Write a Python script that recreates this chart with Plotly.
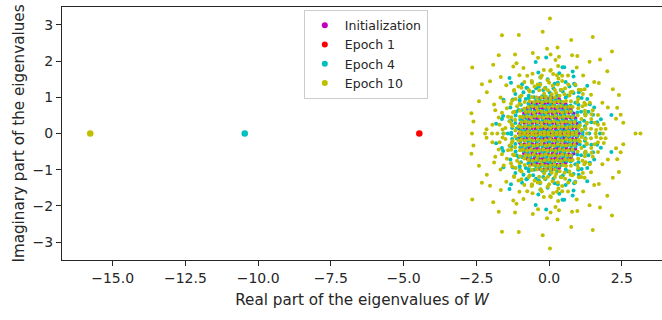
import plotly.graph_objects as go

# Eigenvalues of W (real part, imaginary part) at initialization and after
# 1, 4 and 10 epochs of training.  Complex eigenvalues of the real matrix W
# come in conjugate pairs, so every upper-half-plane value has its mirror.

init_eigs = [
    (-0.33, 0.97), (-0.19, 1.00), (-0.06, 0.96), (0.08, 0.99), (0.21, 0.97), (0.34, 0.95),
    (-0.58, 0.85), (-0.43, 0.82), (-0.30, 0.86), (-0.15, 0.83), (-0.02, 0.85), (0.13, 0.82), (0.27, 0.86), (0.41, 0.84), (0.57, 0.81),
    (-0.76, 0.69), (-0.62, 0.72), (-0.49, 0.68), (-0.34, 0.71), (-0.21, 0.69), (-0.07, 0.72), (0.06, 0.70), (0.21, 0.68), (0.34, 0.71), (0.48, 0.69), (0.62, 0.72), (0.75, 0.68),
    (-0.86, 0.55), (-0.73, 0.57), (-0.58, 0.54), (-0.45, 0.58), (-0.31, 0.56), (-0.16, 0.54), (-0.03, 0.57), (0.12, 0.55), (0.25, 0.58), (0.39, 0.54), (0.53, 0.56), (0.68, 0.57), (0.84, 0.55),
    (-0.94, 0.41), (-0.80, 0.44), (-0.67, 0.40), (-0.52, 0.43), (-0.39, 0.41), (-0.24, 0.44), (-0.10, 0.40), (0.03, 0.42), (0.17, 0.44), (0.30, 0.41), (0.45, 0.43), (0.59, 0.40), (0.73, 0.44), (0.90, 0.42),
    (-0.99, 0.27), (-0.85, 0.30), (-0.71, 0.26), (-0.58, 0.29), (-0.43, 0.27), (-0.29, 0.30), (-0.16, 0.28), (-0.02, 0.26), (0.12, 0.29), (0.26, 0.27), (0.40, 0.30), (0.55, 0.26), (0.68, 0.28), (0.83, 0.29), (0.97, 0.27),
    (-1.01, 0.13), (-0.87, 0.16), (-0.74, 0.12), (-0.59, 0.15), (-0.46, 0.13), (-0.32, 0.16), (-0.18, 0.14), (-0.05, 0.12), (0.09, 0.15), (0.23, 0.13), (0.37, 0.16), (0.51, 0.12), (0.66, 0.14), (0.80, 0.15), (0.95, 0.13),
    (-1.03, 0.00), (-0.90, 0.00), (-0.76, 0.00), (-0.62, 0.00), (-0.48, 0.00), (-0.35, 0.00), (-0.21, 0.00), (-0.07, 0.00), (0.07, 0.00), (0.20, 0.00), (0.34, 0.00), (0.48, 0.00), (0.62, 0.00), (0.76, 0.00), (0.89, 0.00), (1.02, 0.00),
    (-1.01, -0.13), (-0.87, -0.16), (-0.74, -0.12), (-0.59, -0.15), (-0.46, -0.13), (-0.32, -0.16), (-0.18, -0.14), (-0.05, -0.12), (0.09, -0.15), (0.23, -0.13), (0.37, -0.16), (0.51, -0.12), (0.66, -0.14), (0.80, -0.15), (0.95, -0.13),
    (-0.99, -0.27), (-0.85, -0.30), (-0.71, -0.26), (-0.58, -0.29), (-0.43, -0.27), (-0.29, -0.30), (-0.16, -0.28), (-0.02, -0.26), (0.12, -0.29), (0.26, -0.27), (0.40, -0.30), (0.55, -0.26), (0.68, -0.28), (0.83, -0.29), (0.97, -0.27),
    (-0.94, -0.41), (-0.80, -0.44), (-0.67, -0.40), (-0.52, -0.43), (-0.39, -0.41), (-0.24, -0.44), (-0.10, -0.40), (0.03, -0.42), (0.17, -0.44), (0.30, -0.41), (0.45, -0.43), (0.59, -0.40), (0.73, -0.44), (0.90, -0.42),
    (-0.86, -0.55), (-0.73, -0.57), (-0.58, -0.54), (-0.45, -0.58), (-0.31, -0.56), (-0.16, -0.54), (-0.03, -0.57), (0.12, -0.55), (0.25, -0.58), (0.39, -0.54), (0.53, -0.56), (0.68, -0.57), (0.84, -0.55),
    (-0.76, -0.69), (-0.62, -0.72), (-0.49, -0.68), (-0.34, -0.71), (-0.21, -0.69), (-0.07, -0.72), (0.06, -0.70), (0.21, -0.68), (0.34, -0.71), (0.48, -0.69), (0.62, -0.72), (0.75, -0.68),
    (-0.58, -0.85), (-0.43, -0.82), (-0.30, -0.86), (-0.15, -0.83), (-0.02, -0.85), (0.13, -0.82), (0.27, -0.86), (0.41, -0.84), (0.57, -0.81),
    (-0.33, -0.97), (-0.19, -1.00), (-0.06, -0.96), (0.08, -0.99), (0.21, -0.97), (0.34, -0.95),
]

epoch4_eigs = [
    # bulk
    (-0.12, 1.02), (0.05, 1.03),
    (-0.46, 0.90), (-0.32, 0.93), (-0.18, 0.89), (-0.04, 0.92), (0.10, 0.90), (0.24, 0.93), (0.38, 0.89),
    (-0.66, 0.76), (-0.52, 0.79), (-0.38, 0.75), (-0.24, 0.78), (-0.10, 0.76), (0.04, 0.79), (0.18, 0.77), (0.32, 0.75), (0.46, 0.78), (0.61, 0.76),
    (-0.78, 0.62), (-0.64, 0.65), (-0.50, 0.61), (-0.36, 0.64), (-0.22, 0.62), (-0.08, 0.65), (0.06, 0.63), (0.20, 0.61), (0.34, 0.64), (0.48, 0.62), (0.62, 0.65), (0.77, 0.61),
    (-0.88, 0.48), (-0.73, 0.51), (-0.59, 0.47), (-0.46, 0.50), (-0.31, 0.48), (-0.17, 0.51), (-0.03, 0.49), (0.11, 0.47), (0.25, 0.50), (0.39, 0.48), (0.53, 0.51), (0.67, 0.47), (0.82, 0.49),
    (-0.92, 0.34), (-0.78, 0.37), (-0.64, 0.33), (-0.50, 0.36), (-0.36, 0.34), (-0.22, 0.37), (-0.08, 0.35), (0.06, 0.33), (0.20, 0.36), (0.34, 0.34), (0.48, 0.37), (0.62, 0.33), (0.76, 0.35), (0.91, 0.36),
    (-0.99, 0.22), (-0.84, 0.19), (-0.70, 0.23), (-0.57, 0.20), (-0.42, 0.22), (-0.28, 0.19), (-0.13, 0.21), (0.01, 0.23), (0.15, 0.20), (0.29, 0.22), (0.43, 0.19), (0.57, 0.21), (0.71, 0.23), (0.85, 0.20), (0.99, 0.21),
    (-0.97, 0.08), (-0.83, 0.06), (-0.69, 0.09), (-0.55, 0.05), (-0.41, 0.07), (-0.27, 0.09), (-0.14, 0.06), (0.00, 0.08), (0.14, 0.05), (0.28, 0.07), (0.42, 0.09), (0.56, 0.06), (0.70, 0.08), (0.84, 0.05), (0.98, 0.07),
    (-0.97, -0.08), (-0.83, -0.06), (-0.69, -0.09), (-0.55, -0.05), (-0.41, -0.07), (-0.27, -0.09), (-0.14, -0.06), (0.00, -0.08), (0.14, -0.05), (0.28, -0.07), (0.42, -0.09), (0.56, -0.06), (0.70, -0.08), (0.84, -0.05), (0.98, -0.07),
    (-0.99, -0.22), (-0.84, -0.19), (-0.70, -0.23), (-0.57, -0.20), (-0.42, -0.22), (-0.28, -0.19), (-0.13, -0.21), (0.01, -0.23), (0.15, -0.20), (0.29, -0.22), (0.43, -0.19), (0.57, -0.21), (0.71, -0.23), (0.85, -0.20), (0.99, -0.21),
    (-0.92, -0.34), (-0.78, -0.37), (-0.64, -0.33), (-0.50, -0.36), (-0.36, -0.34), (-0.22, -0.37), (-0.08, -0.35), (0.06, -0.33), (0.20, -0.36), (0.34, -0.34), (0.48, -0.37), (0.62, -0.33), (0.76, -0.35), (0.91, -0.36),
    (-0.88, -0.48), (-0.73, -0.51), (-0.59, -0.47), (-0.46, -0.50), (-0.31, -0.48), (-0.17, -0.51), (-0.03, -0.49), (0.11, -0.47), (0.25, -0.50), (0.39, -0.48), (0.53, -0.51), (0.67, -0.47), (0.82, -0.49),
    (-0.78, -0.62), (-0.64, -0.65), (-0.50, -0.61), (-0.36, -0.64), (-0.22, -0.62), (-0.08, -0.65), (0.06, -0.63), (0.20, -0.61), (0.34, -0.64), (0.48, -0.62), (0.62, -0.65), (0.77, -0.61),
    (-0.66, -0.76), (-0.52, -0.79), (-0.38, -0.75), (-0.24, -0.78), (-0.10, -0.76), (0.04, -0.79), (0.18, -0.77), (0.32, -0.75), (0.46, -0.78), (0.61, -0.76),
    (-0.46, -0.90), (-0.32, -0.93), (-0.18, -0.89), (-0.04, -0.92), (0.10, -0.90), (0.24, -0.93), (0.38, -0.89),
    (-0.12, -1.02), (0.05, -1.03),
    # spread outside the bulk
    (-0.10, 2.10), (-0.46, 1.97), (0.46, 1.83), (0.52, 1.83), (-1.36, 1.53), (0.84, 1.57), (1.31, 1.32), (2.14, 0.51),
    (1.65, 0.31), (-1.82, 0.27), (-1.31, 1.40), (-0.37, 1.68), (-0.31, 1.37), (-0.93, 1.36), (-0.59, 1.42), (-1.16, 1.09),
    (-0.88, 1.14), (-1.57, 0.93), (-1.62, 0.40), (-1.33, 0.72), (-0.97, 0.79), (-0.70, 0.98), (-1.27, 0.15), (-1.16, 0.29),
    (0.81, 1.71), (0.90, 1.33), (0.57, 1.42), (1.02, 1.14), (1.40, 0.81), (1.45, 0.31), (1.78, 0.39), (1.25, 0.52),
    (1.55, 0.72), (1.12, 0.98), (1.25, 0.13), (-1.15, 0.50), (-1.05, 0.65), (-0.80, 0.95), (-0.55, 1.15), (-0.20, 1.20),
    (0.15, 1.25), (0.40, 1.20), (0.65, 1.05), (0.90, 0.85), (1.10, 0.60), (1.20, 0.35), (-1.30, 0.35), (1.35, 0.60),
    (-0.35, 1.30), (0.30, 1.40), (1.00, 1.00), (-1.00, 1.00), (-0.05, 1.50), (0.70, 1.30), (-0.75, 1.25),
    (1.15, 0.04), (1.23, 0.20), (1.05, 0.30), (1.24, 0.53), (0.97, 0.58), (1.01, 0.79), (0.74, 0.77), (0.84, 1.12),
    (0.57, 0.99), (0.47, 1.16), (0.28, 1.05), (0.19, 1.37), (0.02, 1.13), (-0.13, 1.26), (-0.24, 1.03), (-0.45, 1.25),
    (-0.51, 1.00), (-0.70, 1.04), (-0.71, 0.82), (-1.01, 0.91), (-0.93, 0.65), (-1.12, 0.60), (-0.99, 0.38), (-1.36, 0.34),
    (-1.11, 0.14), (-1.30, 0.02), (1.51, 0.52), (0.86, 1.37), (-0.30, 1.55), (-1.25, 0.94), (-1.58, 0.48), (-0.78, 1.26),
    (1.31, 0.95), (0.35, 1.66),
    (-0.10, -2.10), (-0.46, -1.97), (0.46, -1.83), (0.52, -1.83), (-1.36, -1.53), (0.84, -1.57), (1.31, -1.32), (2.14, -0.51),
    (1.65, -0.31), (-1.82, -0.27), (-1.31, -1.40), (-0.37, -1.68), (-0.31, -1.37), (-0.93, -1.36), (-0.59, -1.42), (-1.16, -1.09),
    (-0.88, -1.14), (-1.57, -0.93), (-1.62, -0.40), (-1.33, -0.72), (-0.97, -0.79), (-0.70, -0.98), (-1.27, -0.15), (-1.16, -0.29),
    (0.81, -1.71), (0.90, -1.33), (0.57, -1.42), (1.02, -1.14), (1.40, -0.81), (1.45, -0.31), (1.78, -0.39), (1.25, -0.52),
    (1.55, -0.72), (1.12, -0.98), (1.25, -0.13), (-1.15, -0.50), (-1.05, -0.65), (-0.80, -0.95), (-0.55, -1.15), (-0.20, -1.20),
    (0.15, -1.25), (0.40, -1.20), (0.65, -1.05), (0.90, -0.85), (1.10, -0.60), (1.20, -0.35), (-1.30, -0.35), (1.35, -0.60),
    (-0.35, -1.30), (0.30, -1.40), (1.00, -1.00), (-1.00, -1.00), (-0.05, -1.50), (0.70, -1.30), (-0.75, -1.25),
    (1.15, -0.04), (1.23, -0.20), (1.05, -0.30), (1.24, -0.53), (0.97, -0.58), (1.01, -0.79), (0.74, -0.77), (0.84, -1.12),
    (0.57, -0.99), (0.47, -1.16), (0.28, -1.05), (0.19, -1.37), (0.02, -1.13), (-0.13, -1.26), (-0.24, -1.03), (-0.45, -1.25),
    (-0.51, -1.00), (-0.70, -1.04), (-0.71, -0.82), (-1.01, -0.91), (-0.93, -0.65), (-1.12, -0.60), (-0.99, -0.38), (-1.36, -0.34),
    (-1.11, -0.14), (-1.30, -0.02), (1.51, -0.52), (0.86, -1.37), (-0.30, -1.55), (-1.25, -0.94), (-1.58, -0.48), (-0.78, -1.26),
    (1.31, -0.95), (0.35, -1.66),
    # real eigenvalues
    (-1.57, 0.00), (-1.42, 0.00), (1.38, 0.00), (1.75, 0.00),
]

epoch10_eigs = [
    # bulk
    (-0.26, 0.99), (-0.11, 1.01), (0.05, 0.98), (0.20, 1.00),
    (-0.52, 0.87), (-0.38, 0.89), (-0.24, 0.86), (-0.10, 0.90), (0.04, 0.88), (0.18, 0.86), (0.32, 0.89), (0.47, 0.87),
    (-0.71, 0.73), (-0.57, 0.75), (-0.43, 0.72), (-0.29, 0.76), (-0.15, 0.74), (-0.01, 0.72), (0.13, 0.75), (0.27, 0.73), (0.41, 0.76), (0.55, 0.72), (0.69, 0.74),
    (-0.80, 0.59), (-0.68, 0.61), (-0.53, 0.58), (-0.39, 0.62), (-0.25, 0.60), (-0.11, 0.58), (0.03, 0.61), (0.17, 0.59), (0.31, 0.62), (0.45, 0.58), (0.60, 0.60), (0.74, 0.61),
    (-0.90, 0.45), (-0.76, 0.47), (-0.62, 0.44), (-0.49, 0.48), (-0.34, 0.46), (-0.20, 0.44), (-0.06, 0.47), (0.08, 0.45), (0.22, 0.48), (0.36, 0.44), (0.50, 0.46), (0.65, 0.47), (0.80, 0.45),
    (-0.95, 0.31), (-0.81, 0.33), (-0.68, 0.30), (-0.53, 0.34), (-0.40, 0.32), (-0.26, 0.30), (-0.11, 0.33), (0.02, 0.31), (0.16, 0.34), (0.30, 0.30), (0.44, 0.32), (0.58, 0.33), (0.72, 0.31), (0.87, 0.32),
    (-0.96, 0.17), (-0.82, 0.19), (-0.67, 0.16), (-0.54, 0.19), (-0.39, 0.17), (-0.25, 0.20), (-0.12, 0.18), (0.04, 0.16), (0.17, 0.19), (0.32, 0.17), (0.45, 0.20), (0.60, 0.16), (0.73, 0.18), (0.88, 0.19), (1.01, 0.17),
    (-1.00, 0.04), (-0.86, 0.02), (-0.73, 0.05), (-0.58, 0.03), (-0.45, 0.05), (-0.30, 0.02), (-0.17, 0.04), (-0.03, 0.03), (0.11, 0.05), (0.25, 0.02), (0.38, 0.04), (0.53, 0.03), (0.66, 0.05), (0.80, 0.02), (0.94, 0.04),
    (-1.00, -0.04), (-0.86, -0.02), (-0.73, -0.05), (-0.58, -0.03), (-0.45, -0.05), (-0.30, -0.02), (-0.17, -0.04), (-0.03, -0.03), (0.11, -0.05), (0.25, -0.02), (0.38, -0.04), (0.53, -0.03), (0.66, -0.05), (0.80, -0.02), (0.94, -0.04),
    (-0.96, -0.17), (-0.82, -0.19), (-0.67, -0.16), (-0.54, -0.19), (-0.39, -0.17), (-0.25, -0.20), (-0.12, -0.18), (0.04, -0.16), (0.17, -0.19), (0.32, -0.17), (0.45, -0.20), (0.60, -0.16), (0.73, -0.18), (0.88, -0.19), (1.01, -0.17),
    (-0.95, -0.31), (-0.81, -0.33), (-0.68, -0.30), (-0.53, -0.34), (-0.40, -0.32), (-0.26, -0.30), (-0.11, -0.33), (0.02, -0.31), (0.16, -0.34), (0.30, -0.30), (0.44, -0.32), (0.58, -0.33), (0.72, -0.31), (0.87, -0.32),
    (-0.90, -0.45), (-0.76, -0.47), (-0.62, -0.44), (-0.49, -0.48), (-0.34, -0.46), (-0.20, -0.44), (-0.06, -0.47), (0.08, -0.45), (0.22, -0.48), (0.36, -0.44), (0.50, -0.46), (0.65, -0.47), (0.80, -0.45),
    (-0.80, -0.59), (-0.68, -0.61), (-0.53, -0.58), (-0.39, -0.62), (-0.25, -0.60), (-0.11, -0.58), (0.03, -0.61), (0.17, -0.59), (0.31, -0.62), (0.45, -0.58), (0.60, -0.60), (0.74, -0.61),
    (-0.71, -0.73), (-0.57, -0.75), (-0.43, -0.72), (-0.29, -0.76), (-0.15, -0.74), (-0.01, -0.72), (0.13, -0.75), (0.27, -0.73), (0.41, -0.76), (0.55, -0.72), (0.69, -0.74),
    (-0.52, -0.87), (-0.38, -0.89), (-0.24, -0.86), (-0.10, -0.90), (0.04, -0.88), (0.18, -0.86), (0.32, -0.89), (0.47, -0.87),
    (-0.26, -0.99), (-0.11, -1.01), (0.05, -0.98), (0.20, -1.00),
    # spread outside the bulk (upper half-plane)
    (0.03, 3.17), (-0.22, 2.81), (-1.62, 2.71), (-1.04, 2.72), (0.76, 2.58), (1.50, 2.66), (-0.07, 2.34), (0.29, 2.37),
    (2.16, 2.26), (-1.73, 2.16), (-1.17, 2.18), (-0.56, 2.22), (0.05, 2.18), (0.79, 2.16), (0.97, 2.14), (0.34, 2.12),
    (1.39, 1.98), (1.75, 2.04), (-1.92, 1.90), (-2.64, 1.82), (-1.23, 1.85), (-1.12, 1.94), (-0.38, 2.09), (-0.88, 1.81),
    (2.00, 1.72), (-2.31, 1.36), (-2.03, 1.44), (-1.66, 1.56), (-2.14, 1.14), (2.19, 1.22), (2.40, 1.06), (-2.41, 0.89),
    (-1.89, 0.80), (1.83, 0.85), (2.34, 0.71), (2.46, 0.52), (-2.67, 0.56), (-2.60, 0.33), (2.55, 0.30), (-0.75, 1.59),
    (-0.57, 1.65), (-1.02, 1.61), (-0.18, 1.75), (0.04, 1.73), (0.14, 1.64), (-0.29, 1.54), (-0.85, 1.42), (-1.47, 1.33),
    (-1.21, 1.18), (-1.67, 0.99), (-1.56, 0.88), (-1.85, 0.64), (-1.73, 0.44), (-1.62, 0.57), (-1.27, 0.91), (-1.35, 0.33),
    (-2.15, 0.12), (-1.95, 0.24), (0.31, 1.86), (0.22, 2.03), (0.27, 1.61), (0.45, 1.59), (0.65, 1.60), (1.17, 1.60),
    (0.95, 1.82), (1.55, 1.42), (1.71, 1.39), (1.16, 1.09), (1.44, 1.07), (2.02, 0.72), (1.68, 0.51), (1.26, 0.79),
    (1.50, 0.64), (1.24, 0.55), (2.30, 0.41), (1.57, 0.30), (1.88, 0.26), (1.78, 0.13), (1.94, 0.13), (1.62, 0.10),
    (-1.10, 0.75), (-1.20, 0.60), (-0.95, 1.05), (-0.70, 1.20), (-0.50, 1.30), (-0.30, 1.35), (0.00, 1.40), (0.30, 1.35),
    (0.55, 1.25), (0.80, 1.15), (1.00, 0.95), (1.15, 0.75), (1.25, 0.50), (1.30, 0.30), (1.25, 0.15), (-1.25, 0.20),
    (-1.30, 0.45), (-1.15, 0.95), (-0.60, 1.45), (0.45, 1.45), (0.90, 1.35), (1.10, 1.20), (-1.45, 0.70), (-1.05, 1.30),
    (-0.15, 1.25), (0.20, 1.20), (0.70, 1.05), (1.40, 0.85), (-1.50, 0.15), (1.45, 0.40),
    (1.12, 0.10), (1.44, 0.13), (1.06, 0.22), (1.29, 0.27), (1.11, 0.40), (1.46, 0.53), (0.98, 0.50), (1.23, 0.63),
    (1.00, 0.70), (1.21, 0.85), (0.81, 0.73), (0.97, 0.87), (0.75, 0.89), (1.02, 1.21), (0.58, 0.90), (0.74, 1.14),
    (0.53, 1.08), (0.66, 1.35), (0.36, 1.04), (0.42, 1.21), (0.24, 1.12), (0.32, 1.52), (0.09, 1.08), (0.12, 1.32),
    (-0.04, 1.19), (-0.05, 1.47), (-0.17, 1.10), (-0.25, 1.60), (-0.34, 1.19), (-0.39, 1.35), (-0.42, 0.99), (-0.59, 1.40),
    (-0.59, 1.01), (-0.67, 1.16), (-0.67, 0.89), (-0.95, 1.26), (-0.84, 0.87), (-0.99, 1.02), (-0.85, 0.69), (-1.01, 0.82),
    (-1.00, 0.63), (-1.31, 0.82), (-1.00, 0.46), (-1.24, 0.58), (-1.17, 0.38), (-1.41, 0.46), (-1.05, 0.20), (-1.28, 0.25),
    (-1.16, 0.08), (-1.60, 0.11), (1.68, 0.24), (1.22, 1.22), (0.06, 1.75), (-1.20, 1.20), (-1.70, 0.24),
    # spread outside the bulk (lower half-plane)
    (0.03, -3.17), (-0.22, -2.81), (-1.62, -2.71), (-1.04, -2.72), (0.76, -2.58), (1.50, -2.66), (-0.07, -2.34), (0.29, -2.37),
    (2.16, -2.26), (-1.73, -2.16), (-1.17, -2.18), (-0.56, -2.22), (0.05, -2.18), (0.79, -2.16), (0.97, -2.14), (0.34, -2.12),
    (1.39, -1.98), (1.75, -2.04), (-1.92, -1.90), (-2.64, -1.82), (-1.23, -1.85), (-1.12, -1.94), (-0.38, -2.09), (-0.88, -1.81),
    (2.00, -1.72), (-2.31, -1.36), (-2.03, -1.44), (-1.66, -1.56), (-2.14, -1.14), (2.19, -1.22), (2.40, -1.06), (-2.41, -0.89),
    (-1.89, -0.80), (1.83, -0.85), (2.34, -0.71), (2.46, -0.52), (-2.67, -0.56), (-2.60, -0.33), (2.55, -0.30), (-0.75, -1.59),
    (-0.57, -1.65), (-1.02, -1.61), (-0.18, -1.75), (0.04, -1.73), (0.14, -1.64), (-0.29, -1.54), (-0.85, -1.42), (-1.47, -1.33),
    (-1.21, -1.18), (-1.67, -0.99), (-1.56, -0.88), (-1.85, -0.64), (-1.73, -0.44), (-1.62, -0.57), (-1.27, -0.91), (-1.35, -0.33),
    (-2.15, -0.12), (-1.95, -0.24), (0.31, -1.86), (0.22, -2.03), (0.27, -1.61), (0.45, -1.59), (0.65, -1.60), (1.17, -1.60),
    (0.95, -1.82), (1.55, -1.42), (1.71, -1.39), (1.16, -1.09), (1.44, -1.07), (2.02, -0.72), (1.68, -0.51), (1.26, -0.79),
    (1.50, -0.64), (1.24, -0.55), (2.30, -0.41), (1.57, -0.30), (1.88, -0.26), (1.78, -0.13), (1.94, -0.13), (1.62, -0.10),
    (-1.10, -0.75), (-1.20, -0.60), (-0.95, -1.05), (-0.70, -1.20), (-0.50, -1.30), (-0.30, -1.35), (0.00, -1.40), (0.30, -1.35),
    (0.55, -1.25), (0.80, -1.15), (1.00, -0.95), (1.15, -0.75), (1.25, -0.50), (1.30, -0.30), (1.25, -0.15), (-1.25, -0.20),
    (-1.30, -0.45), (-1.15, -0.95), (-0.60, -1.45), (0.45, -1.45), (0.90, -1.35), (1.10, -1.20), (-1.45, -0.70), (-1.05, -1.30),
    (-0.15, -1.25), (0.20, -1.20), (0.70, -1.05), (1.40, -0.85), (-1.50, -0.15), (1.45, -0.40),
    (1.12, -0.10), (1.44, -0.13), (1.06, -0.22), (1.29, -0.27), (1.11, -0.40), (1.46, -0.53), (0.98, -0.50), (1.23, -0.63),
    (1.00, -0.70), (1.21, -0.85), (0.81, -0.73), (0.97, -0.87), (0.75, -0.89), (1.02, -1.21), (0.58, -0.90), (0.74, -1.14),
    (0.53, -1.08), (0.66, -1.35), (0.36, -1.04), (0.42, -1.21), (0.24, -1.12), (0.32, -1.52), (0.09, -1.08), (0.12, -1.32),
    (-0.04, -1.19), (-0.05, -1.47), (-0.17, -1.10), (-0.25, -1.60), (-0.34, -1.19), (-0.39, -1.35), (-0.42, -0.99), (-0.59, -1.40),
    (-0.59, -1.01), (-0.67, -1.16), (-0.67, -0.89), (-0.95, -1.26), (-0.84, -0.87), (-0.99, -1.02), (-0.85, -0.69), (-1.01, -0.82),
    (-1.00, -0.63), (-1.31, -0.82), (-1.00, -0.46), (-1.24, -0.58), (-1.17, -0.38), (-1.41, -0.46), (-1.05, -0.20), (-1.28, -0.25),
    (-1.16, -0.08), (-1.60, -0.11), (1.68, -0.24), (1.22, -1.22), (0.06, -1.75), (-1.20, -1.20), (-1.70, -0.24),
    # real eigenvalues
    (-2.65, 0.00), (-2.20, 0.00), (-1.96, 0.00), (-1.78, 0.00), (-1.55, 0.00), (1.30, 0.00), (1.60, 0.00), (1.85, 0.00),
    (2.97, 0.00), (3.14, 0.00),
]

# Leading (real, negative) eigenvalue that separates from the bulk during training
leading_names = ["Epoch 1", "Epoch 4", "Epoch 10"]
leading_re = [-4.46, -10.46, -15.77]
leading_im = [0.0, 0.0, 0.0]

series_names = ["Initialization", "Epoch 1", "Epoch 4", "Epoch 10"]
series_eigs = {"Initialization": init_eigs, "Epoch 1": [], "Epoch 4": epoch4_eigs, "Epoch 10": epoch10_eigs}
colors = {"Initialization": "#bf00bf", "Epoch 1": "#ff0000", "Epoch 4": "#00bfbf", "Epoch 10": "#bfbf00"}

fig = go.Figure()

# bulk of each spectrum, drawn in training order so later epochs sit on top
for name in series_names:
    pts = series_eigs[name]
    if not pts:
        continue
    fig.add_trace(go.Scatter(
        x=[p[0] for p in pts], y=[p[1] for p in pts], mode="markers",
        marker=dict(size=4, color=colors[name], line=dict(width=0)),
        showlegend=False, hoverinfo="skip",
    ))

# detached leading eigenvalues
for name, re, im in zip(leading_names, leading_re, leading_im):
    fig.add_trace(go.Scatter(
        x=[re], y=[im], mode="markers",
        marker=dict(size=6.5, color=colors[name], line=dict(width=0)),
        showlegend=False, hoverinfo="skip",
    ))

# legend entries
for name in series_names:
    fig.add_trace(go.Scatter(
        x=[None], y=[None], mode="markers", name=name,
        marker=dict(size=6, color=colors[name]),
    ))

axis_color = "#262626"
fig.update_layout(
    width=662, height=320,
    margin=dict(l=62, r=0, t=7, b=60),
    plot_bgcolor="white", paper_bgcolor="white",
    font=dict(family="DejaVu Sans", size=14, color=axis_color),
    legend=dict(
        x=0.403, y=0.99, xanchor="left", yanchor="top",
        bordercolor="#cccccc", borderwidth=1, bgcolor="rgba(255,255,255,0.8)",
        font=dict(size=12.5), tracegroupgap=0,
    ),
    xaxis=dict(
        range=[-16.74, 3.88], tick0=0, dtick=2.5, tickformat=".1f",
        ticks="outside", ticklen=5, tickwidth=1, tickcolor=axis_color,
        showline=True, linecolor=axis_color, linewidth=1, mirror=True,
        showgrid=False, zeroline=False,
        title=dict(text="Real part of the eigenvalues of <i>W</i>", standoff=9,
                   font=dict(size=15.2)),
    ),
    yaxis=dict(
        range=[-3.49, 3.49], tick0=0, dtick=1,
        ticks="outside", ticklen=5, tickwidth=1, tickcolor=axis_color,
        showline=True, linecolor=axis_color, linewidth=1, mirror=False,
        showgrid=False, zeroline=False,
        title=dict(text="Imaginary part of the eigenvalues", standoff=4,
                   font=dict(size=15.2)),
    ),
)

fig.write_html("out.html")
